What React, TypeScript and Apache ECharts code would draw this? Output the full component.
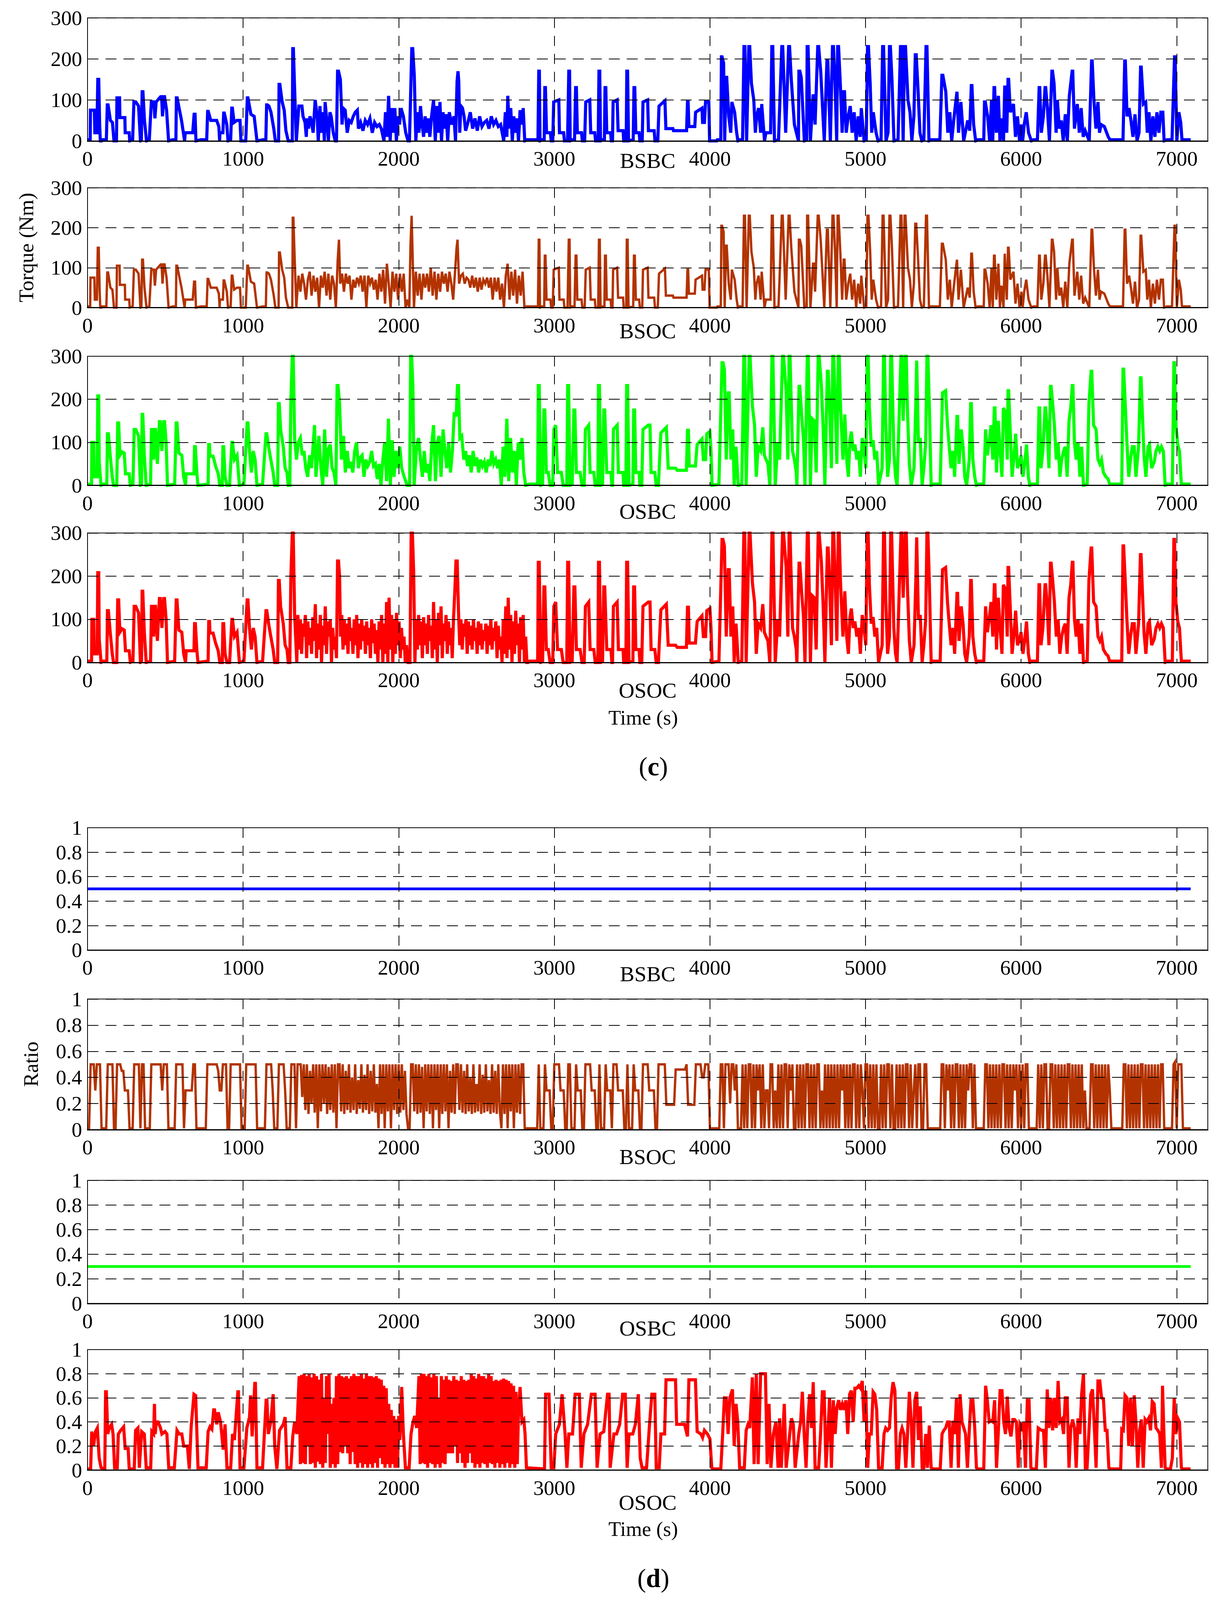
import React, { useEffect, useRef } from 'react';
import * as echarts from 'echarts';

const FONT = "'Liberation Serif', 'Times New Roman', serif";

// ---------- labels ----------
const panelNames = ['BSBC', 'BSOC', 'OSBC', 'OSOC', 'BSBC', 'BSOC', 'OSBC', 'OSOC'];
const colors = ['#0000FF', '#B33300', '#00FF00', '#FF0000', '#0000FF', '#B33300', '#00FF00', '#FF0000'];
const torqueRange = [0, 300, 100];
const ratioRange = [0, 1, 0.2];
const timeRange = [0, 7200, 1000];

// ---------- torque data, [time s, torque Nm] ----------
const bsbcSegA = [[0,3],[17,3],[19,75],[44,75],[47,20],[60,20],[66,150],[72,150],[78,40],[82,0],[90,0],[93,3],[121,3],[127,88],[132,88],[147,50],[160,45],[170,0],[186,0],[189,105],[206,105],[208,57],[240,57],[242,20],[268,20],[271,0],[290,3],[298,95],[310,95],[328,85],[340,0],[346,3],[351,120],[356,120],[366,50],[379,0],[397,3],[410,95],[426,95],[433,55],[441,95],[452,100],[470,108],[476,108],[482,60],[490,108],[495,108],[508,75],[521,0],[547,3],[568,3],[571,105],[576,105],[591,75],[604,50],[624,0],[628,20],[676,20],[685,65],[691,65],[697,0],[728,3],[766,3],[772,72],[776,72],[792,50],[830,50],[844,35],[849,0],[851,20],[870,20],[875,68],[879,68],[895,40],[903,0],[920,3],[927,80],[931,80],[942,45],[960,50],[980,50],[986,0],[1017,0],[1027,105],[1031,105],[1050,65],[1071,60],[1089,0],[1127,3],[1146,3],[1151,88],[1156,88],[1166,85],[1179,70],[1197,30],[1207,0],[1228,0],[1231,138],[1236,138],[1251,95],[1264,75],[1275,25],[1290,0],[1316,0],[1319,225],[1323,225],[1329,150],[1342,0]];

const bsbcMid = [[1358,85],[1378,85],[1385,60],[1398,45],[1406,10],[1411,55],[1420,30],[1430,60],[1440,45],[1450,20],[1463,100],[1476,60],[1483,0],[1494,85],[1501,20],[1514,70],[1522,0],[1527,95],[1540,40],[1548,0],[1558,70],[1566,60],[1579,20],[1592,0],[1600,0],[1607,170],[1613,170],[1625,150],[1636,40],[1643,80],[1656,75],[1669,20],[1682,50],[1695,45],[1708,60],[1721,70],[1734,75],[1741,30],[1755,45],[1770,25],[1785,50],[1800,40],[1815,55],[1830,20],[1845,45],[1860,35],[1875,40],[1888,30],[1905,0],[1915,70],[1925,10],[1935,110],[1945,0],[1955,80],[1965,20],[1975,80],[1985,0],[1995,60],[2005,40],[2015,80],[2030,60],[2045,20],[2060,0],[2069,0],[2084,225],[2090,225],[2100,160],[2110,0],[2120,70],[2130,20],[2140,85],[2150,40],[2160,10],[2170,60],[2180,20],[2190,55],[2200,10],[2211,60],[2224,100],[2235,0],[2245,85],[2255,20],[2265,95],[2275,0],[2285,70],[2295,30],[2305,65],[2315,0],[2325,70],[2340,40],[2355,60],[2365,0],[2375,145],[2381,170],[2386,145],[2392,20],[2400,85],[2410,80],[2420,60],[2430,25],[2445,45],[2460,70],[2475,30],[2490,55],[2505,25],[2520,60],[2535,35],[2550,45],[2565,50],[2580,30],[2595,60],[2610,40],[2625,50],[2640,35],[2655,40],[2675,0],[2685,70],[2695,10],[2701,110],[2710,30],[2720,80],[2730,0],[2740,60],[2750,20],[2760,55],[2770,0],[2780,75],[2790,40],[2800,80],[2810,0]];

const bsocMid = [[1345,20],[1356,80],[1368,40],[1380,85],[1392,60],[1404,20],[1416,70],[1428,90],[1440,30],[1452,80],[1464,40],[1476,75],[1488,0],[1500,80],[1512,50],[1524,90],[1536,30],[1548,85],[1560,20],[1572,80],[1584,60],[1596,0],[1608,120],[1616,170],[1624,60],[1636,85],[1648,40],[1660,85],[1672,60],[1684,80],[1696,20],[1708,70],[1720,50],[1732,75],[1744,60],[1756,80],[1768,40],[1780,80],[1792,0],[1804,80],[1816,60],[1828,75],[1840,45],[1852,70],[1864,20],[1876,85],[1888,40],[1900,95],[1912,10],[1924,110],[1936,60],[1948,0],[1960,90],[1972,40],[1984,85],[1996,20],[2008,85],[2020,40],[2032,85],[2044,0],[2056,20],[2068,0],[2076,160],[2083,230],[2090,120],[2098,0],[2110,90],[2122,30],[2134,85],[2146,20],[2158,85],[2170,50],[2182,85],[2194,40],[2206,100],[2218,30],[2230,90],[2242,20],[2254,85],[2266,40],[2278,90],[2290,60],[2302,85],[2314,40],[2326,90],[2338,60],[2350,20],[2362,90],[2372,150],[2378,170],[2388,60],[2400,80],[2412,85],[2424,60],[2436,75],[2448,70],[2460,50],[2472,80],[2484,50],[2496,75],[2508,40],[2520,75],[2532,45],[2544,70],[2556,60],[2568,75],[2580,50],[2592,75],[2604,20],[2616,75],[2628,40],[2640,75],[2652,20],[2664,60],[2676,0],[2688,80],[2700,110],[2712,20],[2724,90],[2736,30],[2748,95],[2760,10],[2772,80],[2784,30],[2796,90],[2808,0]];

const bsbcSegC = [[2820,3],[2895,3],[2900,170],[2904,170],[2908,0],[2915,3],[2935,3],[2939,130],[2943,130],[2950,20],[2975,20],[2980,0],[2990,0],[2996,95],[3029,100],[3033,20],[3060,20],[3065,0],[3085,0],[3093,170],[3098,170],[3102,0],[3110,3],[3130,3],[3137,130],[3142,130],[3148,20],[3175,20],[3180,0],[3195,0],[3202,95],[3228,100],[3234,20],[3260,20],[3265,0],[3282,0],[3287,170],[3292,170],[3297,0],[3310,3],[3322,3],[3326,130],[3331,130],[3337,20],[3362,20],[3366,0],[3374,0],[3378,95],[3404,100],[3410,25],[3442,25],[3446,0],[3462,0],[3466,170],[3471,170],[3477,0],[3507,3],[3512,130],[3517,130],[3524,20],[3545,20],[3550,0],[3565,0],[3570,95],[3600,100],[3605,25],[3642,25],[3647,0],[3665,0],[3673,85],[3711,98],[3717,30],[3762,30],[3766,25],[3850,25],[3856,95],[3860,95],[3865,35],[3903,35],[3908,70],[3949,80],[3953,45],[3965,45],[3972,95],[3993,95],[3998,0],[4044,0],[4048,3],[4070,3],[4074,205],[4078,205],[4088,190],[4095,0],[4104,155],[4108,155],[4121,60],[4134,20],[4141,95],[4159,70],[4172,20],[4180,0],[4190,3],[4210,3],[4219,230],[4225,230],[4236,0],[4250,230],[4256,230],[4267,140],[4282,100],[4292,20],[4300,60],[4313,80],[4326,20],[4333,90],[4351,0],[4360,20],[4390,20],[4398,230],[4404,230],[4415,0],[4441,3],[4462,230],[4468,230],[4487,20],[4506,230],[4512,230],[4523,150],[4543,40],[4569,0],[4572,170],[4578,170],[4587,155],[4607,0],[4622,3],[4625,230],[4631,230],[4646,0],[4663,110],[4668,110],[4676,40],[4693,230],[4699,230],[4712,170],[4735,0],[4752,195],[4758,195],[4774,0],[4788,230],[4794,230],[4804,145],[4815,0],[4821,230],[4827,230],[4838,140],[4850,20],[4860,120],[4865,120],[4876,20],[4889,60],[4902,85],[4914,20],[4927,70],[4940,0],[4953,60],[4966,10],[4973,80],[4991,0],[5005,3],[5013,230],[5019,230],[5030,140],[5040,20],[5050,70],[5068,20],[5081,0],[5100,3],[5110,230],[5116,230],[5132,0],[5145,20],[5154,230],[5160,230],[5170,150],[5183,0],[5209,3],[5225,230],[5231,230],[5242,0],[5251,230],[5257,230],[5273,100],[5286,70],[5298,0],[5311,60],[5320,210],[5326,210],[5337,130],[5350,20],[5362,0],[5375,3],[5389,230],[5395,230],[5408,0],[5419,3],[5478,3],[5491,160],[5497,160],[5516,120],[5529,20],[5542,70],[5554,0],[5567,50],[5580,95],[5588,120],[5598,20],[5613,95],[5631,0],[5644,25],[5657,50],[5670,25],[5680,135],[5684,135],[5695,40],[5708,0],[5721,3],[5760,3],[5765,95],[5770,95],[5785,60],[5798,0],[5810,100],[5818,0],[5826,130],[5830,130],[5841,20],[5854,110],[5864,0],[5874,55],[5887,0],[5895,135],[5908,20],[5916,150],[5920,150],[5931,70],[5951,90],[5964,10],[5977,60],[5990,0],[6002,40],[6010,0],[6020,40],[6033,70],[6048,20],[6066,0],[6079,3],[6105,3],[6116,130],[6120,130],[6130,20],[6143,60],[6154,130],[6158,130],[6169,80],[6182,0],[6198,170],[6202,170],[6212,140],[6225,20],[6233,100],[6246,30],[6258,50],[6271,0],[6284,65],[6297,0],[6310,110],[6328,170],[6332,170],[6343,30],[6361,90],[6374,20],[6386,80],[6399,10],[6412,25],[6438,0],[6453,195],[6457,195],[6468,100],[6481,30],[6494,95],[6504,20],[6514,40],[6535,35],[6560,10],[6571,3],[6655,3],[6666,195],[6670,195],[6681,60],[6694,80],[6706,50],[6719,10],[6732,65],[6745,0],[6758,20],[6768,180],[6772,180],[6786,90],[6801,95],[6811,20],[6822,70],[6834,0],[6847,60],[6860,10],[6873,70],[6886,20],[6898,70],[6911,70],[6919,0],[6937,3],[6970,3],[6986,205],[6990,205],[7001,0],[7014,70],[7026,45],[7034,3],[7090,3]];

const osbcSegA = [[0,3],[26,3],[28,100],[40,100],[43,20],[62,20],[66,208],[72,208],[75,55],[87,0],[100,3],[124,3],[128,120],[134,120],[147,65],[159,20],[167,0],[188,0],[194,145],[200,145],[208,70],[222,78],[236,75],[244,27],[268,27],[275,0],[292,3],[300,130],[310,130],[328,115],[340,0],[347,3],[351,165],[355,165],[365,70],[377,0],[405,3],[411,130],[418,130],[425,60],[432,130],[437,130],[449,50],[462,148],[468,148],[478,80],[490,148],[495,148],[505,100],[514,0],[560,3],[570,145],[575,145],[587,75],[606,70],[618,20],[630,0],[634,27],[684,27],[688,90],[693,90],[703,27],[710,0],[775,3],[779,95],[784,95],[787,68],[807,68],[823,45],[840,27],[850,0],[866,0],[870,90],[875,90],[884,20],[896,0],[913,0],[928,100],[932,100],[944,60],[961,70],[976,0],[1005,3],[1026,145],[1031,145],[1041,80],[1053,30],[1065,80],[1077,60],[1089,0],[1125,3],[1147,120],[1152,120],[1166,85],[1178,60],[1193,30],[1203,0],[1222,0],[1227,190],[1232,190],[1241,130],[1258,90],[1270,40],[1282,30],[1290,0],[1300,0],[1307,200],[1316,300],[1322,300],[1331,110]];

const osbcMid = [[1343,60],[1355,100],[1368,110],[1380,70],[1391,80],[1403,40],[1415,20],[1427,70],[1439,40],[1459,140],[1468,20],[1487,115],[1500,40],[1512,0],[1524,130],[1536,20],[1548,85],[1560,95],[1572,40],[1584,30],[1596,0],[1604,232],[1610,232],[1620,190],[1632,60],[1645,115],[1657,30],[1669,80],[1681,40],[1693,55],[1705,30],[1717,80],[1729,100],[1741,40],[1753,65],[1765,70],[1777,20],[1789,60],[1801,45],[1814,55],[1826,80],[1838,45],[1850,50],[1862,15],[1874,50],[1886,0],[1898,60],[1910,100],[1922,10],[1934,155],[1946,0],[1958,105],[1970,20],[1982,80],[1995,40],[2007,90],[2019,40],[2035,20],[2055,0],[2070,0],[2077,300],[2083,300],[2091,230],[2099,0],[2115,90],[2128,110],[2140,60],[2152,20],[2164,80],[2176,30],[2188,50],[2200,10],[2212,95],[2224,140],[2236,10],[2248,100],[2260,115],[2272,20],[2285,130],[2297,80],[2309,40],[2321,100],[2333,30],[2345,80],[2357,170],[2369,160],[2378,232],[2384,232],[2393,110],[2405,115],[2418,60],[2430,80],[2442,45],[2454,70],[2466,30],[2478,80],[2490,45],[2502,65],[2514,30],[2526,60],[2538,45],[2550,55],[2562,30],[2575,60],[2587,45],[2599,80],[2611,50],[2623,60],[2635,40],[2647,60],[2659,0],[2671,90],[2683,20],[2695,155],[2707,10],[2719,110],[2731,30],[2744,80],[2756,0],[2768,100],[2780,60],[2792,110],[2804,30],[2816,0]];

const osocMid = [[1345,0],[1352,110],[1360,30],[1368,100],[1376,20],[1384,90],[1392,60],[1400,110],[1408,10],[1416,95],[1424,40],[1432,80],[1440,20],[1448,105],[1456,50],[1464,135],[1472,10],[1480,90],[1488,30],[1496,110],[1504,0],[1512,85],[1520,40],[1528,130],[1536,20],[1544,95],[1552,60],[1560,100],[1568,0],[1576,80],[1584,30],[1592,60],[1600,10],[1607,235],[1613,235],[1620,200],[1626,60],[1634,110],[1642,30],[1650,100],[1658,40],[1666,90],[1674,20],[1682,105],[1690,50],[1698,80],[1706,20],[1714,100],[1722,40],[1730,110],[1738,10],[1746,90],[1754,30],[1762,100],[1770,50],[1778,85],[1786,20],[1794,95],[1802,40],[1810,80],[1818,10],[1826,100],[1834,45],[1842,90],[1850,20],[1858,75],[1866,0],[1874,95],[1882,30],[1890,110],[1898,0],[1906,90],[1914,20],[1922,140],[1930,0],[1938,150],[1946,30],[1954,110],[1962,0],[1970,100],[1978,20],[1986,115],[1994,40],[2002,95],[2010,10],[2018,80],[2026,30],[2034,60],[2042,0],[2050,40],[2060,0],[2072,0],[2080,300],[2088,300],[2096,210],[2104,0],[2112,100],[2120,30],[2128,110],[2136,40],[2144,95],[2152,10],[2160,105],[2168,40],[2176,90],[2184,20],[2192,110],[2200,50],[2208,85],[2216,10],[2224,140],[2232,30],[2240,100],[2248,0],[2256,115],[2264,40],[2272,130],[2280,10],[2288,90],[2296,50],[2304,110],[2312,20],[2320,95],[2328,40],[2336,80],[2344,10],[2352,100],[2360,160],[2368,235],[2376,235],[2384,120],[2392,40],[2400,100],[2408,30],[2416,90],[2424,60],[2432,100],[2440,20],[2448,95],[2456,40],[2464,85],[2472,30],[2480,100],[2488,50],[2496,80],[2504,20],[2512,95],[2520,40],[2528,90],[2536,30],[2544,75],[2552,50],[2560,90],[2568,20],[2576,85],[2584,40],[2592,100],[2600,30],[2608,80],[2616,50],[2624,95],[2632,10],[2640,85],[2648,30],[2656,60],[2664,0],[2672,100],[2680,20],[2688,130],[2696,10],[2704,150],[2712,30],[2720,110],[2728,0],[2736,95],[2744,20],[2752,120],[2760,40],[2768,90],[2776,0],[2784,105],[2792,30],[2800,110],[2808,0],[2816,60],[2824,0],[2832,0]];

const osbcSegC = [[2840,3],[2893,3],[2897,232],[2903,232],[2913,0],[2925,3],[2933,175],[2939,175],[2949,30],[2961,30],[2973,0],[2990,0],[2997,130],[3009,140],[3021,30],[3045,30],[3057,0],[3080,0],[3086,232],[3092,232],[3101,0],[3115,3],[3126,175],[3132,175],[3142,30],[3166,30],[3178,0],[3192,0],[3200,130],[3221,140],[3230,30],[3254,30],[3263,0],[3280,0],[3284,232],[3290,232],[3299,0],[3310,3],[3318,175],[3324,175],[3337,30],[3364,30],[3370,0],[3374,0],[3380,130],[3404,140],[3412,30],[3442,30],[3446,0],[3460,0],[3465,232],[3471,232],[3480,0],[3505,3],[3510,175],[3516,175],[3524,30],[3545,30],[3550,0],[3562,0],[3570,130],[3604,140],[3615,140],[3622,30],[3646,30],[3655,0],[3669,0],[3685,122],[3720,135],[3732,40],[3779,40],[3790,35],[3849,35],[3856,128],[3862,128],[3867,45],[3907,45],[3918,95],[3949,108],[3958,60],[3972,60],[3980,120],[4000,125],[4007,80],[4014,0],[4058,3],[4078,285],[4084,285],[4093,270],[4105,60],[4118,215],[4124,215],[4135,60],[4147,130],[4156,0],[4168,90],[4182,0],[4205,3],[4218,300],[4224,300],[4233,0],[4252,300],[4258,300],[4273,185],[4287,140],[4298,20],[4310,90],[4326,80],[4340,135],[4350,70],[4361,60],[4373,50],[4385,0],[4399,300],[4405,300],[4420,0],[4436,100],[4448,60],[4467,300],[4473,300],[4490,220],[4501,60],[4509,300],[4515,300],[4531,80],[4543,60],[4555,30],[4559,0],[4573,230],[4578,230],[4590,160],[4601,110],[4611,0],[4626,300],[4632,300],[4646,0],[4657,155],[4671,150],[4683,30],[4696,300],[4702,300],[4716,235],[4727,140],[4739,0],[4755,265],[4760,265],[4769,190],[4781,40],[4790,300],[4796,300],[4805,190],[4816,50],[4825,300],[4831,300],[4839,190],[4855,60],[4867,165],[4879,60],[4890,20],[4900,105],[4909,125],[4921,80],[4932,95],[4944,60],[4956,80],[4967,20],[4979,110],[4991,80],[5002,40],[5011,300],[5017,300],[5025,180],[5037,90],[5049,105],[5060,60],[5072,80],[5084,0],[5107,40],[5116,300],[5122,300],[5130,150],[5142,20],[5154,60],[5162,300],[5168,300],[5182,80],[5193,20],[5203,0],[5228,300],[5234,300],[5242,150],[5256,300],[5262,300],[5270,170],[5282,50],[5294,0],[5312,40],[5324,200],[5329,290],[5340,100],[5352,110],[5364,0],[5375,40],[5387,100],[5395,300],[5401,300],[5410,190],[5422,0],[5434,3],[5480,3],[5495,215],[5515,220],[5527,140],[5538,90],[5550,40],[5562,80],[5573,20],[5588,160],[5592,160],[5601,50],[5615,130],[5627,90],[5638,20],[5650,0],[5667,60],[5676,190],[5680,190],[5690,60],[5702,20],[5713,0],[5725,3],[5760,3],[5772,130],[5783,70],[5795,100],[5807,140],[5818,60],[5828,180],[5832,180],[5842,30],[5853,150],[5865,80],[5877,20],[5886,180],[5900,170],[5911,60],[5916,220],[5920,220],[5930,130],[5942,20],[5953,60],[5965,120],[5977,40],[5988,50],[6000,70],[6012,20],[6023,50],[6035,95],[6047,20],[6056,0],[6060,3],[6105,3],[6115,180],[6119,180],[6128,40],[6140,80],[6154,180],[6158,180],[6168,130],[6179,40],[6189,230],[6193,230],[6203,190],[6214,140],[6226,60],[6238,100],[6249,20],[6261,60],[6273,80],[6284,90],[6296,20],[6308,150],[6319,180],[6329,232],[6333,232],[6343,100],[6354,60],[6366,100],[6378,20],[6389,90],[6401,0],[6425,3],[6436,190],[6450,265],[6454,265],[6466,140],[6482,130],[6494,60],[6506,50],[6517,60],[6529,30],[6545,20],[6559,15],[6569,3],[6647,3],[6655,270],[6659,270],[6668,200],[6680,100],[6692,20],[6703,60],[6715,90],[6727,90],[6738,20],[6755,90],[6767,250],[6771,250],[6778,180],[6790,70],[6802,20],[6816,90],[6825,95],[6839,40],[6856,55],[6867,80],[6879,90],[6891,80],[6902,90],[6914,80],[6926,0],[6940,3],[6972,3],[6982,285],[6986,285],[6995,140],[7007,95],[7018,80],[7030,3],[7090,3]];

// ---------- ratio data ----------
const bsbcRatio = [[0,0.5],[7090,0.5]];
const osbcRatio = [[0,0.3],[7090,0.3]];

// BSOC ratio, one value every 10 s from t = 0
const bsocRatio = [
0.01,0.01,0.5,0.5,0.5,0.3,0.5,0.5,0.5,0.01,0.01,0.01,0.01,0.5,0.5,0.5,0.5,0.01,0.01,0.5,
0.5,0.5,0.45,0.45,0.3,0.3,0.3,0.01,0.01,0.01,0.5,0.5,0.5,0.5,0.01,0.5,0.5,0.01,0.01,0.01,
0.01,0.5,0.5,0.5,0.5,0.5,0.5,0.5,0.3,0.5,0.5,0.5,0.01,0.01,0.01,0.01,0.01,0.5,0.5,0.5,
0.5,0.5,0.01,0.3,0.3,0.3,0.3,0.3,0.5,0.5,0.01,0.01,0.01,0.01,0.01,0.01,0.01,0.5,0.5,0.5,
0.5,0.5,0.5,0.5,0.45,0.3,0.3,0.5,0.5,0.5,0.01,0.01,0.5,0.5,0.5,0.5,0.5,0.5,0.5,0.01,
0.01,0.01,0.5,0.5,0.5,0.5,0.5,0.5,0.5,0.01,0.01,0.01,0.01,0.01,0.01,0.5,0.5,0.5,0.5,0.3,
0.01,0.01,0.01,0.5,0.5,0.5,0.5,0.3,0.01,0.01,0.01,0.5,0.5,0.5,0.01,0.5,0.5,0.5,0.25,0.5,
0.15,0.5,0.12,0.45,0.2,0.5,0.13,0.5,0.01,0.5,0.14,0.5,0.2,0.5,0.12,0.48,0.15,0.5,0.13,0.5,
0.01,0.5,0.5,0.14,0.5,0.12,0.45,0.15,0.5,0.13,0.4,0.15,0.5,0.12,0.38,0.16,0.5,0.13,0.42,0.15,
0.5,0.12,0.45,0.14,0.5,0.13,0.35,0.01,0.5,0.12,0.5,0.01,0.5,0.14,0.5,0.01,0.5,0.15,0.5,0.12,
0.5,0.13,0.5,0.15,0.45,0.12,0.01,0.01,0.5,0.5,0.14,0.5,0.12,0.5,0.13,0.48,0.01,0.5,0.14,0.5,
0.12,0.5,0.01,0.5,0.15,0.5,0.01,0.5,0.12,0.5,0.14,0.5,0.01,0.45,0.13,0.5,0.12,0.5,0.5,0.15,
0.5,0.13,0.45,0.12,0.5,0.14,0.4,0.12,0.5,0.13,0.35,0.14,0.5,0.12,0.42,0.13,0.5,0.14,0.38,0.12,
0.5,0.13,0.45,0.12,0.5,0.14,0.01,0.5,0.12,0.5,0.01,0.5,0.14,0.5,0.01,0.5,0.13,0.5,0.12,0.5,
0.5,0.01,0.01,0.01,0.01,0.01,0.01,0.01,0.01,0.01,0.5,0.01,0.01,0.01,0.5,0.3,0.3,0.3,0.01,0.01,
0.5,0.5,0.5,0.5,0.3,0.3,0.3,0.01,0.01,0.5,0.5,0.01,0.01,0.01,0.5,0.3,0.3,0.3,0.01,0.01,
0.5,0.5,0.5,0.5,0.3,0.3,0.3,0.01,0.01,0.5,0.01,0.01,0.01,0.5,0.3,0.3,0.3,0.01,0.5,0.5,
0.5,0.3,0.3,0.3,0.3,0.01,0.01,0.5,0.01,0.01,0.01,0.5,0.3,0.3,0.3,0.01,0.01,0.5,0.5,0.5,
0.5,0.3,0.3,0.3,0.3,0.01,0.01,0.5,0.5,0.5,0.5,0.5,0.19,0.19,0.19,0.19,0.19,0.19,0.46,0.46,
0.46,0.46,0.46,0.46,0.46,0.5,0.19,0.19,0.19,0.19,0.19,0.5,0.5,0.5,0.5,0.4,0.4,0.5,0.5,0.5,
0.01,0.01,0.01,0.01,0.01,0.01,0.01,0.5,0.5,0.01,0.5,0.5,0.5,0.2,0.5,0.5,0.3,0.5,0.01,0.01,
0.01,0.5,0.01,0.5,0.01,0.5,0.5,0.01,0.5,0.01,0.5,0.3,0.5,0.01,0.5,0.01,0.3,0.3,0.01,0.5,
0.5,0.01,0.3,0.01,0.5,0.01,0.5,0.01,0.5,0.5,0.01,0.5,0.3,0.5,0.01,0.01,0.5,0.01,0.5,0.01,
0.5,0.01,0.5,0.5,0.01,0.5,0.01,0.5,0.01,0.5,0.5,0.01,0.3,0.01,0.5,0.01,0.5,0.01,0.5,0.01,
0.5,0.01,0.5,0.01,0.5,0.3,0.5,0.01,0.5,0.01,0.5,0.01,0.5,0.5,0.01,0.5,0.01,0.5,0.3,0.01,
0.5,0.5,0.01,0.5,0.01,0.5,0.01,0.5,0.01,0.01,0.5,0.01,0.5,0.01,0.5,0.5,0.01,0.5,0.01,0.01,
0.5,0.01,0.5,0.01,0.5,0.01,0.5,0.5,0.01,0.5,0.01,0.3,0.5,0.01,0.5,0.5,0.01,0.01,0.5,0.5,
0.01,0.01,0.01,0.01,0.01,0.01,0.01,0.01,0.01,0.5,0.5,0.01,0.5,0.3,0.5,0.01,0.5,0.01,0.5,0.5,
0.01,0.5,0.01,0.5,0.01,0.5,0.3,0.5,0.5,0.01,0.5,0.01,0.01,0.01,0.01,0.01,0.01,0.5,0.5,0.01,
0.5,0.01,0.5,0.01,0.5,0.01,0.5,0.01,0.5,0.5,0.01,0.5,0.01,0.5,0.01,0.5,0.3,0.5,0.01,0.5,
0.01,0.5,0.01,0.5,0.5,0.01,0.01,0.01,0.01,0.01,0.01,0.5,0.01,0.5,0.01,0.5,0.5,0.01,0.01,0.5,
0.5,0.01,0.5,0.01,0.5,0.01,0.5,0.01,0.5,0.01,0.5,0.5,0.01,0.5,0.01,0.5,0.01,0.5,0.01,0.5,
0.01,0.3,0.01,0.01,0.01,0.5,0.5,0.01,0.5,0.01,0.5,0.01,0.5,0.01,0.5,0.01,0.5,0.3,0.01,0.01,
0.01,0.01,0.01,0.01,0.01,0.01,0.5,0.5,0.01,0.5,0.01,0.5,0.01,0.5,0.01,0.5,0.01,0.5,0.5,0.01,
0.5,0.01,0.5,0.01,0.5,0.01,0.5,0.01,0.5,0.01,0.5,0.5,0.01,0.01,0.01,0.01,0.01,0.01,0.5,0.52,
0.01,0.5,0.5,0.5,0.01,0.01,0.01,0.01,0.01,0.01
];

// OSOC ratio, [time s, ratio]
const osocRatioA = [[0,0.01],[20,0.01],[27,0.32],[39,0.2],[51,0.32],[63,0.35],[75,0.1],[87,0.02],[111,0.01],[116,0.65],[121,0.65],[130,0.3],[140,0.35],[155,0.38],[164,0.3],[174,0.02],[191,0.02],[198,0.3],[213,0.33],[232,0.36],[242,0.18],[261,0.18],[268,0.01],[300,0.01],[309,0.33],[324,0.35],[333,0.02],[348,0.32],[365,0.3],[377,0.02],[406,0.02],[413,0.32],[425,0.3],[430,0.55],[435,0.3],[442,0.4],[454,0.4],[469,0.35],[478,0.3],[498,0.32],[510,0.3],[522,0.02],[558,0.02],[575,0.33],[589,0.3],[606,0.3],[618,0.2],[642,0.2],[654,0.01],[666,0.36],[684,0.63],[695,0.62],[710,0.02],[763,0.02],[775,0.32],[787,0.36],[799,0.34],[811,0.5],[816,0.5],[831,0.38],[840,0.48],[855,0.4],[872,0.17],[884,0.38],[896,0.02],[920,0.02],[932,0.3],[944,0.25],[966,0.65],[970,0.65],[980,0.02],[1005,0.02],[1024,0.35],[1041,0.44],[1048,0.62],[1058,0.28],[1075,0.72],[1079,0.72],[1089,0.02],[1125,0.02],[1148,0.58],[1153,0.58],[1162,0.3],[1178,0.4],[1193,0.63],[1203,0.2],[1217,0.01],[1234,0.33],[1258,0.38],[1270,0.44],[1282,0.02],[1307,0.02],[1319,0.28],[1331,0.4],[1345,0.3]];

const osocRatioB = [[1360,0.78],[1368,0.05],[1376,0.79],[1384,0.06],[1392,0.8],[1400,0.05],[1408,0.78],[1416,0.2],[1424,0.8],[1432,0.05],[1440,0.77],[1448,0.06],[1456,0.8],[1464,0.02],[1472,0.78],[1480,0.07],[1488,0.75],[1496,0.05],[1504,0.8],[1512,0.02],[1520,0.6],[1528,0.06],[1536,0.78],[1544,0.3],[1552,0.8],[1560,0.02],[1568,0.55],[1576,0.05],[1584,0.6],[1592,0.02],[1600,0.78],[1608,0.05],[1616,0.8],[1624,0.15],[1632,0.78],[1640,0.14],[1648,0.77],[1656,0.2],[1664,0.78],[1672,0.14],[1680,0.76],[1688,0.05],[1696,0.78],[1704,0.15],[1712,0.8],[1720,0.05],[1728,0.78],[1736,0.02],[1744,0.78],[1752,0.06],[1760,0.8],[1768,0.02],[1776,0.76],[1784,0.05],[1792,0.8],[1800,0.02],[1808,0.78],[1816,0.05],[1824,0.78],[1832,0.02],[1840,0.77],[1848,0.06],[1856,0.78],[1864,0.02],[1872,0.76],[1880,0.1],[1888,0.75],[1896,0.05],[1904,0.7],[1912,0.02],[1920,0.68],[1928,0.05],[1936,0.55],[1944,0.02],[1952,0.5],[1960,0.05],[1968,0.45],[1976,0.02],[1984,0.42],[1992,0.02],[2000,0.45],[2007,0.25],[2019,0.69],[2030,0.3],[2043,0.02],[2067,0.02],[2079,0.3],[2092,0.4],[2103,0.45],[2115,0.35],[2124,0.6],[2130,0.78],[2138,0.05],[2146,0.8],[2154,0.06],[2162,0.8],[2170,0.05],[2178,0.78],[2186,0.02],[2194,0.8],[2202,0.06],[2210,0.77],[2218,0.05],[2226,0.8],[2234,0.02],[2242,0.78],[2250,0.05],[2258,0.6],[2266,0.02],[2274,0.78],[2282,0.06],[2290,0.75],[2298,0.05],[2306,0.78],[2314,0.14],[2322,0.75],[2330,0.14],[2338,0.74],[2346,0.14],[2354,0.78],[2362,0.2],[2370,0.75],[2378,0.06],[2386,0.74],[2394,0.14],[2402,0.78],[2410,0.06],[2418,0.75],[2426,0.02],[2434,0.74],[2442,0.06],[2450,0.75],[2458,0.14],[2466,0.8],[2474,0.06],[2482,0.78],[2490,0.02],[2498,0.76],[2506,0.05],[2514,0.8],[2522,0.02],[2530,0.78],[2538,0.06],[2546,0.78],[2554,0.05],[2562,0.76],[2570,0.02],[2578,0.8],[2586,0.06],[2594,0.78],[2602,0.05],[2610,0.74],[2618,0.02],[2626,0.75],[2634,0.06],[2642,0.74],[2650,0.02],[2658,0.75],[2666,0.05],[2674,0.76],[2682,0.02],[2690,0.75],[2698,0.06],[2706,0.74],[2714,0.02],[2722,0.72],[2730,0.05],[2738,0.7],[2746,0.02],[2754,0.65],[2762,0.05],[2770,0.5],[2780,0.69],[2792,0.4],[2804,0.42],[2812,0.3],[2821,0.02]];

const osocRatioC = [[2937,0.01],[2944,0.63],[2966,0.63],[2980,0.02],[2997,0.02],[3009,0.3],[3033,0.38],[3050,0.63],[3069,0.3],[3081,0.02],[3093,0.3],[3117,0.3],[3134,0.63],[3161,0.63],[3173,0.02],[3190,0.3],[3214,0.38],[3238,0.63],[3262,0.63],[3275,0.02],[3294,0.3],[3318,0.32],[3342,0.63],[3352,0.63],[3359,0.02],[3383,0.3],[3400,0.3],[3420,0.38],[3439,0.63],[3456,0.63],[3468,0.02],[3480,0.3],[3504,0.3],[3521,0.38],[3540,0.63],[3552,0.1],[3564,0.02],[3593,0.02],[3612,0.38],[3627,0.63],[3646,0.63],[3655,0.02],[3674,0.02],[3685,0.3],[3709,0.3],[3718,0.75],[3779,0.75],[3786,0.38],[3837,0.38],[3856,0.28],[3865,0.75],[3907,0.75],[3918,0.32],[3942,0.3],[3953,0.27],[3965,0.33],[3984,0.3],[4000,0.26],[4012,0.02],[4023,0.01],[4070,0.01],[4082,0.3],[4093,0.6],[4105,0.6],[4117,0.3],[4128,0.6],[4145,0.67],[4156,0.2],[4168,0.55],[4179,0.4],[4191,0.02],[4221,0.02],[4233,0.33],[4245,0.38],[4256,0.35],[4273,0.77],[4284,0.05],[4298,0.8],[4310,0.05],[4326,0.8],[4345,0.8],[4357,0.8],[4368,0.05],[4380,0.55],[4392,0.02],[4408,0.3],[4424,0.4],[4438,0.02],[4448,0.43],[4459,0.02],[4478,0.55],[4490,0.02],[4513,0.3],[4524,0.43],[4536,0.38],[4548,0.02],[4571,0.3],[4583,0.4],[4594,0.65],[4606,0.3],[4618,0.02],[4629,0.4],[4641,0.63],[4653,0.35],[4664,0.73],[4676,0.02],[4699,0.02],[4711,0.3],[4723,0.65],[4734,0.65],[4746,0.02],[4758,0.3],[4769,0.6],[4781,0.02],[4793,0.58],[4805,0.3],[4816,0.52],[4828,0.58],[4839,0.5],[4851,0.55],[4863,0.5],[4874,0.58],[4886,0.3],[4898,0.63],[4909,0.66],[4921,0.4],[4932,0.68],[4944,0.68],[4956,0.7],[4967,0.68],[4979,0.74],[4991,0.4],[5002,0.66],[5014,0.02],[5025,0.3],[5037,0.3],[5049,0.65],[5060,0.63],[5072,0.5],[5084,0.02],[5107,0.02],[5119,0.3],[5130,0.35],[5142,0.33],[5154,0.35],[5165,0.6],[5177,0.73],[5189,0.66],[5200,0.02],[5212,0.02],[5224,0.3],[5235,0.35],[5247,0.3],[5259,0.02],[5270,0.3],[5282,0.65],[5294,0.4],[5305,0.02],[5317,0.58],[5329,0.65],[5340,0.25],[5352,0.53],[5364,0.02],[5375,0.02],[5387,0.3],[5398,0.02],[5410,0.37],[5422,0.02],[5434,0.01],[5480,0.01],[5492,0.3],[5503,0.33],[5515,0.35],[5527,0.4],[5538,0.4],[5550,0.02],[5562,0.41],[5573,0.3],[5585,0.6],[5597,0.02],[5608,0.63],[5620,0.4],[5632,0.35],[5643,0.3],[5655,0.02],[5667,0.33],[5678,0.58],[5690,0.58],[5702,0.35],[5713,0.02],[5725,0.01],[5760,0.01],[5772,0.7],[5783,0.58],[5795,0.4],[5807,0.41],[5818,0.4],[5830,0.58],[5842,0.02],[5853,0.3],[5865,0.66],[5877,0.66],[5888,0.4],[5900,0.3],[5911,0.61],[5923,0.35],[5935,0.28],[5947,0.42],[5958,0.42],[5970,0.4],[5982,0.02],[5993,0.38],[6005,0.35],[6016,0.4],[6028,0.02],[6040,0.58],[6051,0.58],[6063,0.02],[6075,0.01],[6098,0.01],[6110,0.35],[6121,0.34],[6133,0.33],[6144,0.33],[6156,0.02],[6168,0.67],[6179,0.35],[6191,0.6],[6203,0.33],[6214,0.6],[6226,0.35],[6238,0.74],[6249,0.4],[6261,0.42],[6273,0.3],[6284,0.6],[6296,0.6],[6308,0.02],[6319,0.35],[6331,0.42],[6343,0.35],[6354,0.02],[6366,0.43],[6378,0.3],[6389,0.63],[6401,0.8],[6413,0.02],[6424,0.02],[6436,0.32],[6448,0.63],[6459,0.67],[6471,0.35],[6482,0.02],[6494,0.74],[6506,0.74],[6517,0.6],[6529,0.59],[6541,0.33],[6552,0.33],[6564,0.02],[6576,0.01],[6640,0.01],[6647,0.34],[6657,0.33],[6668,0.62],[6680,0.6],[6692,0.2],[6703,0.6],[6715,0.2],[6727,0.62],[6738,0.4],[6750,0.02],[6762,0.33],[6773,0.42],[6785,0.02],[6797,0.42],[6808,0.4],[6820,0.43],[6832,0.33],[6843,0.57],[6855,0.55],[6867,0.35],[6879,0.33],[6891,0.3],[6902,0.02],[6909,0.7],[6918,0.3],[6926,0.02],[6937,0.01],[6960,0.01],[6972,0.1],[6984,0.6],[6995,0.3],[7007,0.43],[7018,0.4],[7030,0.02],[7040,0.01],[7089,0.01]];

// ---------- assembled series ----------
const bsbcTorque = [...bsbcSegA, ...bsbcMid, ...bsbcSegC];
const bsocTorque = [...bsbcSegA, ...bsocMid, ...bsbcSegC];
const osbcTorque = [...osbcSegA, ...osbcMid, ...osbcSegC];
const osocTorque = [...osbcSegA, ...osocMid, ...osbcSegC];
const bsocRatioPairs = bsocRatio.map((v, i) => [i * 10, v]);
const osocRatio = [...osocRatioA, ...osocRatioB, ...osocRatioC];

const seriesData = [bsbcTorque, bsocTorque, osbcTorque, osocTorque, bsbcRatio, bsocRatioPairs, osbcRatio, osocRatio];

// ---------- layout (reference pixels, 3135 x 4473) ----------
const REF_H = 4473;
const PAGE_W = 3135;
const GRID_LEFT = 224;
const GRID_WIDTH = 2867;
const panelTops = [50, 525, 996, 1490, 2314, 2793, 3300, 3773];
const panelHeights = [344, 335, 361, 362, 342, 365, 344, 337];
const nameGaps = [24, 34, 42, 47, 36, 45, 38, 59];
const lineWidths = [8, 6, 8, 8, 7, 6, 7, 8];

function buildOption(sy: number) {
  const fs = (1 + sy) / 2;
  const grid: any[] = [];
  const xAxis: any[] = [];
  const yAxis: any[] = [];
  const series: any[] = [];
  for (let i = 0; i < 8; i++) {
    const isRatio = i >= 4;
    const yr = isRatio ? ratioRange : torqueRange;
    grid.push({
      left: GRID_LEFT, top: panelTops[i] * sy, width: GRID_WIDTH, height: panelHeights[i] * sy,
      show: true, borderColor: '#000', borderWidth: 2, z: 6,
    });
    xAxis.push({
      type: 'value', gridIndex: i, min: timeRange[0], max: timeRange[1], interval: timeRange[2],
      name: panelNames[i], nameLocation: 'middle', nameGap: nameGaps[i] * sy, nameMoveOverlap: false,
      nameTextStyle: { fontFamily: FONT, fontSize: 58 * fs, color: '#000', verticalAlign: 'top' },
      axisLine: { show: true, onZero: false, lineStyle: { color: '#000', width: 3 } },
      axisTick: { show: false },
      axisLabel: {
        fontFamily: FONT, fontSize: 56 * fs, color: '#000', margin: 20 * sy, showMaxLabel: false,
        formatter: (v: number) => String(Math.round(v)),
      },
      splitLine: { show: true, lineStyle: { color: '#000', width: 2, type: [26, 20] } },
      z: 5,
    });
    yAxis.push({
      type: 'value', gridIndex: i, min: yr[0], max: yr[1], interval: yr[2],
      axisLine: { show: true, lineStyle: { color: '#000', width: 2 } },
      axisTick: { show: false },
      axisLabel: {
        fontFamily: FONT, fontSize: 56 * fs, color: '#000', margin: 14,
        formatter: (v: number) => String(isRatio ? Number(v.toFixed(1)) : Math.round(v)),
      },
      splitLine: { show: true, lineStyle: { color: '#000', width: 2, type: [28, 18] } },
      z: 5,
    });
    series.push({
      type: 'line', xAxisIndex: i, yAxisIndex: i, data: seriesData[i],
      showSymbol: false, symbol: 'none', silent: true, z: 1,
      lineStyle: { color: colors[i], width: lineWidths[i], join: 'miter' },
      itemStyle: { color: colors[i] },
    });
  }
  const txt = (text: string, x: number, y: number, size: number, rot = 0) => ({
    type: 'text', x, y: y * sy, rotation: rot, silent: true,
    style: { text, fontFamily: FONT, fontSize: size * fs, fill: '#000', align: 'center', verticalAlign: 'middle' },
  });
  const panelLabel = (letter: string, x: number, y: number) => ({
    type: 'text', x, y: y * sy, silent: true,
    style: {
      text: '{p|(}{b|' + letter + '}{p|)}', fill: '#000', align: 'center', verticalAlign: 'middle',
      rich: {
        p: { fontFamily: FONT, fontSize: 70 * fs, fill: '#000' },
        b: { fontFamily: FONT, fontSize: 70 * fs, fontWeight: 'bold', fill: '#000' },
      },
    },
  });
  const graphic = [
    txt('Torque (Nm)', 67, 692, 56, Math.PI / 2),
    txt('Ratio', 79, 2975, 56, Math.PI / 2),
    txt('Time (s)', 1646, 2006, 55),
    txt('Time (s)', 1646, 4274, 55),
    panelLabel('c', 1672, 2143),
    panelLabel('d', 1672, 4412),
  ];
  return { animation: false, backgroundColor: '#fff', grid, xAxis, yAxis, series, graphic };
}

function pageHeight() {
  const h = typeof window !== 'undefined' ? window.innerHeight : REF_H;
  return h && h > 0 ? Math.min(h, REF_H) : REF_H;
}

export default function App() {
  const ref = useRef<HTMLDivElement>(null);
  const h = pageHeight();
  useEffect(() => {
    if (!ref.current) return;
    const chart = echarts.init(ref.current, undefined, { renderer: 'svg' });
    chart.setOption(buildOption(h / REF_H) as any);
    return () => chart.dispose();
  }, [h]);
  return (
    <div
      ref={ref}
      style={{ position: 'absolute', left: 0, top: 0, width: PAGE_W, height: h, background: '#fff' }}
    />
  );
}
